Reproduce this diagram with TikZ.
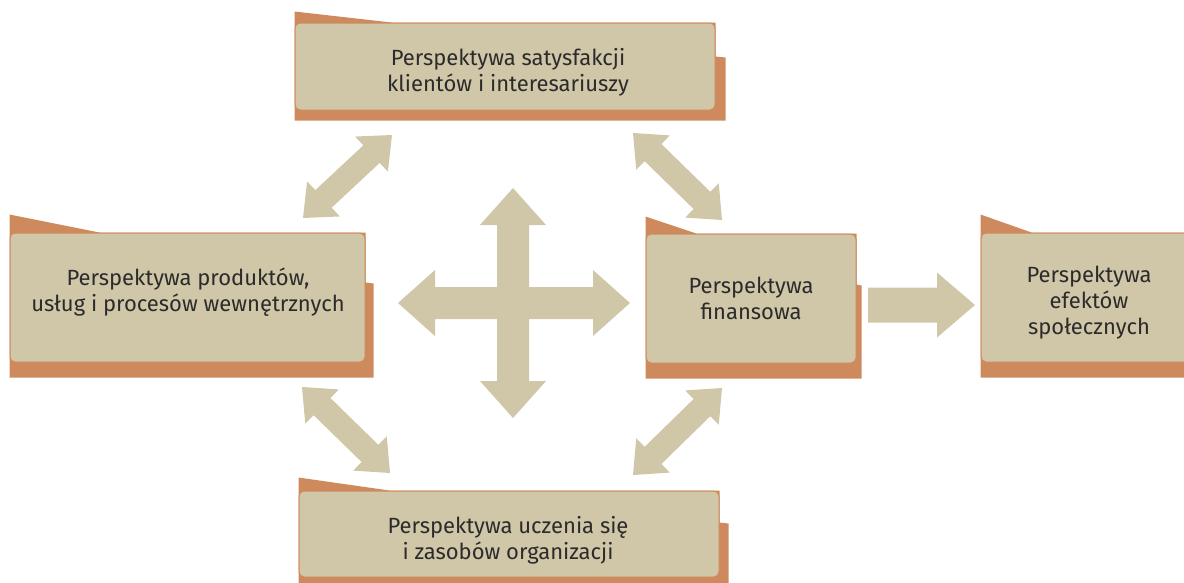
\documentclass[tikz,border=0pt]{standalone}
\usepackage{fontspec}
\setmainfont{Fira Sans}
\usetikzlibrary{calc,backgrounds}
\definecolor{boxfill}{HTML}{D0C6A8}
\definecolor{boxedge}{HTML}{CE8A5C}
\definecolor{ink}{HTML}{2B2B2B}
\tikzset{
  panel/.style={draw=boxedge, line width=1pt, fill=boxfill, rounded corners=5pt,
    inner sep=0pt},
  caption/.style={align=center, text=ink, inner sep=0pt,
    font=\fontsize{22}{26}\selectfont},
  panelshadow/.style={fill=boxedge},
  arrowfill/.style={fill=boxfill},
}
% double-headed block arrow: tips #1,#2; head length #3, head half width #4, shaft half width #5
\newcommand\dblblockarrow[5]{%
  \coordinate (ha) at ($(#1)!#3!(#2)$);
  \coordinate (hb) at ($(#2)!#3!(#1)$);
  \fill[arrowfill] (#1) -- ($(ha)!#4!90:(#2)$) -- ($(ha)!#5!90:(#2)$)
    -- ($(hb)!#5!90:(#2)$) -- ($(hb)!#4!90:(#2)$) -- (#2)
    -- ($(hb)!#4!-90:(#2)$) -- ($(hb)!#5!-90:(#2)$)
    -- ($(ha)!#5!-90:(#2)$) -- ($(ha)!#4!-90:(#2)$) -- cycle;}
% single-headed block arrow: tail #1, tip #2
\newcommand\oneblockarrow[5]{%
  \coordinate (hb) at ($(#2)!#3!(#1)$);
  \fill[arrowfill] ($(#1)!#5!90:(#2)$) -- ($(hb)!#5!90:(#2)$) -- ($(hb)!#4!90:(#2)$)
    -- (#2) -- ($(hb)!#4!-90:(#2)$) -- ($(hb)!#5!-90:(#2)$)
    -- ($(#1)!#5!-90:(#2)$) -- cycle;}
% folder-like shadow behind a panel: #1 node, #2 tab rise, #3 tab length,
% #4 drop of right flap, #5 right extension, #6 bottom extension
\newcommand\panelback[6]{%
  \fill[panelshadow] (#1.north west) -- ++(0,-#2) -- ($(#1.north west)+(#3,0)$)
    -- (#1.north east) -- ($(#1.north east)+(0,#4)$) -- ++(#5,1)
    -- ($(#1.south east)+(#5,#6)$) -- ($(#1.south west)+(0,#6)$) -- cycle;}
\begin{document}
\begin{tikzpicture}[x=1pt,y=-1pt]
\useasboundingbox (0,0) rectangle (1184,582);
\clip (0,0) rectangle (1184,582);

% panels
\node[panel, minimum width=420pt, minimum height=87pt] (clients) at (505,66.5) {};
\node[panel, minimum width=355pt, minimum height=129pt] (products) at (187.5,297.5) {};
\node[panel, minimum width=210pt, minimum height=129pt] (finance) at (751,298.5) {};
\node[panel, minimum width=216pt, minimum height=129pt] (social) at (1089,297.5) {};
\node[panel, minimum width=420pt, minimum height=86pt] (learning) at (509,534) {};

% panel captions
\node[caption] (clientsText) at (508,72)
  {Perspektywa satysfakcji\\klientów i interesariuszy};
\node[caption] (productsText) at (188,292.5)
  {Perspektywa produktów,\\usług i procesów wewnętrznych};
\node[caption] (financeText) at (751,298.5)
  {Perspektywa\\finansowa};
\node[caption] (socialText) at (1089,303)
  {Perspektywa\\efektów\\społecznych};
\node[caption] (learningText) at (508,540.5)
  {Perspektywa uczenia się\\i zasobów organizacji};

\begin{scope}[on background layer]
  \panelback{clients}{11}{97}{34}{10}{10}
  \panelback{products}{18}{90}{50}{8}{15}
  \panelback{finance}{17}{51}{51}{5}{15}
  \panelback{social}{18}{51}{50}{8}{15}
  \panelback{learning}{13}{91}{32}{9}{12}
\end{scope}

% arrow end points
\coordinate (cUp) at (513,188);
\coordinate (cDown) at (513,418);
\coordinate (cLeft) at (398,303);
\coordinate (cRight) at (630,303);
\coordinate (tlA) at (303,218); \coordinate (tlB) at (392,135);
\coordinate (trA) at (633,133); \coordinate (trB) at (722,220);
\coordinate (blA) at (302,387); \coordinate (blB) at (390,473);
\coordinate (brA) at (633,475); \coordinate (brB) at (722,388);
\coordinate (outA) at (868,305); \coordinate (outB) at (975,305);

% central cross
\dblblockarrow{cUp}{cDown}{37pt}{33pt}{16pt}
\dblblockarrow{cLeft}{cRight}{37pt}{33pt}{16pt}
% diagonal links
\dblblockarrow{tlA}{tlB}{28pt}{24pt}{12pt}
\dblblockarrow{trA}{trB}{28pt}{24pt}{12pt}
\dblblockarrow{blA}{blB}{28pt}{24pt}{12pt}
\dblblockarrow{brA}{brB}{28pt}{24pt}{12pt}
% finance to social effects
\oneblockarrow{outA}{outB}{38pt}{32.5pt}{17.5pt}
\end{tikzpicture}
\end{document}
